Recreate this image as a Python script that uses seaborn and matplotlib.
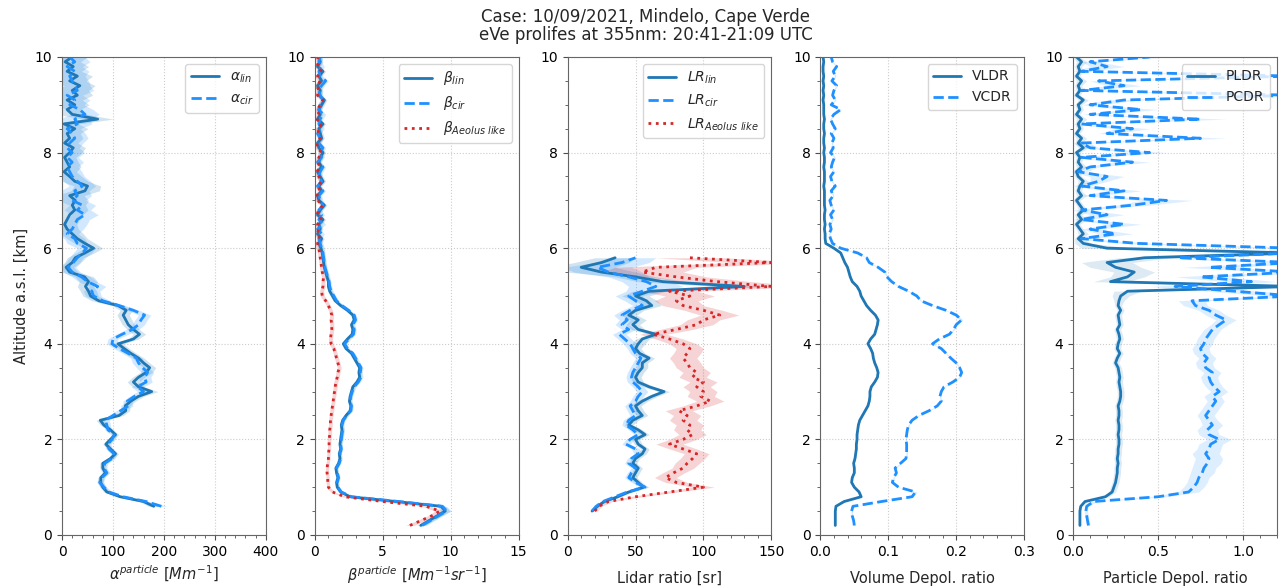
import numpy as np
import matplotlib
matplotlib.use("Agg")
import matplotlib.pyplot as plt
import seaborn as sns

# altitude grids [km]
alt_a = np.round(np.arange(0.6, 10.01, 0.1), 1)
alt = np.round(np.arange(0.2, 10.01, 0.1), 1)
alt_lr = np.round(np.arange(0.5, 5.81, 0.1), 1)

# extinction [Mm-1], grid alt_a
alpha_lin = [180, 160, 114, 88,
             80, 76, 76, 85, 80, 80, 95, 105, 95, 86,
             95, 105, 95, 82, 75, 112, 125, 124, 135, 150,
             176, 150, 140, 150, 165, 172, 160, 150, 135, 122,
             110, 140, 152, 140, 130, 125, 120, 126, 110, 72,
             56, 52, 46, 52, 44, 15, 8, 20, 26, 45,
             62, 45, 30, 20, 10, 5, 10, 15, 25, 20,
             26, 15, 45, 50, 25, 15, 4, 15, 10, 5,
             15, 22, 5, 15, 10, 25, 4, 70, 20, 10,
             25, 10, 30, 20, 35, 15, 30, 10, 22, 6,
             20]
alpha_cir = [195, 165, 120, 92,
             82, 74, 78, 88, 82, 84, 98, 102, 92, 90,
             98, 102, 90, 88, 85, 100, 115, 130, 128, 142,
             160, 148, 165, 162, 168, 158, 150, 146, 130, 112,
             98, 100, 118, 138, 150, 155, 162, 140, 112, 80,
             62, 58, 70, 50, 38, 20, 12, 22, 30, 40,
             48, 30, 25, 10, 20, 25, 30, 45, 30, 40,
             20, 30, 25, 40, 30, 20, 15, 10, 20, 10,
             20, 10, 15, 25, 20, 10, 30, 25, 45, 35,
             15, 25, 10, 30, 25, 20, 15, 25, 10, 25,
             15]
alpha_err = [10, 8, 6, 6,
             6, 6, 6, 6, 6, 6, 6, 6, 6, 6,
             6, 6, 6, 7, 8, 8, 8, 9, 9, 10,
             12, 12, 12, 12, 12, 12, 12, 11, 11, 10,
             10, 10, 12, 12, 12, 12, 12, 12, 12, 14,
             15, 16, 16, 18, 18, 16, 15, 15, 16, 18,
             18, 20, 20, 22, 22, 24, 24, 26, 26, 26,
             26, 28, 28, 26, 26, 24, 24, 22, 22, 22,
             24, 24, 26, 26, 26, 26, 28, 30, 28, 26,
             28, 30, 30, 32, 30, 32, 30, 28, 30, 30,
             30]

# backscatter [Mm-1 sr-1], grid alt
beta_lin = [7.8, 8.4, 9.0, 9.6, 9.3, 6.0, 2.6, 1.9,
            1.65, 1.6, 1.7, 1.6, 1.55, 1.75, 1.85, 1.8, 1.9, 1.85,
            1.9, 1.95, 2.0, 1.95, 2.05, 2.3, 2.6, 2.65, 2.55, 2.6,
            2.7, 2.8, 3.1, 3.3, 3.25, 3.3, 3.1, 2.9, 2.7, 2.3,
            2.1, 2.4, 2.75, 2.8, 2.7, 2.9, 2.8, 2.4, 1.9, 1.5,
            1.3, 1.1, 1.0, 1.0, 0.9, 0.8, 0.7, 0.65, 0.6, 0.55,
            0.45, 0.3, 0.5, 0.2, 0.4, 0.3, 0.6, 0.2, 0.4, 0.7,
            0.3, 0.2, 0.5, 0.3, 0.6, 0.4, 0.2, 0.5, 0.3, 0.4,
            0.6, 0.3, 0.2, 0.5, 0.4, 0.3, 0.6, 0.2, 0.4, 0.3,
            0.5, 0.7, 0.3, 0.4, 0.2, 0.5, 0.3, 0.6, 0.2, 0.4,
            0.3]
beta_cir = [7.9, 8.5, 9.1, 9.7, 9.4, 6.2, 2.7, 1.95,
            1.7, 1.65, 1.75, 1.65, 1.6, 1.8, 1.9, 1.85, 1.95, 1.9,
            1.95, 2.0, 2.05, 2.0, 2.1, 2.35, 2.65, 2.7, 2.6, 2.65,
            2.75, 2.9, 3.2, 3.4, 3.35, 3.4, 3.2, 3.0, 2.8, 2.4,
            2.2, 2.5, 2.85, 2.9, 2.8, 3.0, 2.9, 2.5, 2.0, 1.6,
            1.4, 1.2, 1.1, 1.05, 0.95, 0.85, 0.75, 0.7, 0.65, 0.6,
            0.5, 0.4, 0.3, 0.5, 0.2, 0.6, 0.3, 0.5, 0.3, 0.6,
            0.4, 0.3, 0.6, 0.2, 0.5, 0.3, 0.4, 0.6, 0.2, 0.5,
            0.4, 0.6, 0.3, 0.4, 0.2, 0.5, 0.3, 0.4, 0.6, 0.3,
            0.4, 0.6, 0.4, 0.3, 0.5, 0.8, 0.4, 0.3, 0.5, 0.3,
            0.4]
beta_aeolus = [7.0, 7.8, 8.6, 9.2, 8.2, 5.0, 2.2, 1.3,
               1.0, 0.95, 0.95, 0.9, 0.9, 0.95, 1.0, 1.0, 1.05, 1.05,
               1.05, 1.1, 1.1, 1.15, 1.15, 1.2, 1.25, 1.3, 1.35, 1.4,
               1.45, 1.5, 1.55, 1.65, 1.7, 1.8, 1.7, 1.6, 1.5, 1.4,
               1.2, 1.15, 1.2, 1.25, 1.25, 1.2, 1.25, 1.15, 1.0, 0.8,
               0.55, 0.5, 0.6, 0.6, 0.65, 0.55, 0.5, 0.45, 0.4, 0.35,
               0.3, 0.2, 0.4, 0.15, 0.3, 0.2, 0.5, 0.15, 0.3, 0.6,
               0.2, 0.15, 0.4, 0.2, 0.5, 0.3, 0.15, 0.4, 0.2, 0.3,
               0.5, 0.2, 0.15, 0.4, 0.3, 0.2, 0.5, 0.15, 0.3, 0.2,
               0.4, 0.6, 0.2, 0.3, 0.15, 0.4, 0.2, 0.5, 0.15, 0.3,
               0.2]
beta_err = [0.3, 0.3, 0.3, 0.35, 0.3, 0.3, 0.2, 0.15,
            0.12, 0.12, 0.12, 0.12, 0.12, 0.12, 0.12, 0.12, 0.12, 0.12,
            0.14, 0.14, 0.14, 0.14, 0.14, 0.14, 0.14, 0.14, 0.14, 0.14,
            0.15, 0.15, 0.15, 0.15, 0.15, 0.15, 0.15, 0.15, 0.15, 0.15,
            0.15, 0.15, 0.15, 0.15, 0.15, 0.15, 0.15, 0.15, 0.15, 0.15,
            0.15, 0.15, 0.15, 0.15, 0.15, 0.15, 0.15, 0.15, 0.15, 0.15,
            0.2, 0.2, 0.2, 0.2, 0.2, 0.2, 0.2, 0.2, 0.2, 0.2,
            0.2, 0.2, 0.2, 0.2, 0.2, 0.2, 0.2, 0.2, 0.2, 0.2,
            0.2, 0.2, 0.2, 0.2, 0.2, 0.2, 0.2, 0.2, 0.2, 0.2,
            0.2, 0.2, 0.2, 0.2, 0.2, 0.2, 0.2, 0.2, 0.2, 0.2,
            0.2]

# lidar ratio [sr], grid alt_lr
lr_lin = [18, 22, 27, 37, 45,
          56, 52, 48, 50, 52, 48, 50, 55, 57, 52,
          50, 57, 52, 45, 48, 55, 52, 50, 55, 62,
          71, 60, 52, 50, 52, 55, 55, 60, 53, 50,
          52, 55, 65, 52, 48, 52, 45, 50, 62, 58,
          50, 60, 130, 70, 50, 25, 10, 25, 35]
lr_cir = [18, 21, 26, 35, 44,
          57, 50, 45, 47, 50, 45, 47, 52, 50, 43,
          46, 52, 48, 43, 45, 50, 48, 46, 50, 52,
          55, 52, 48, 47, 48, 50, 52, 54, 50, 48,
          46, 42, 38, 45, 40, 44, 40, 46, 55, 50,
          45, 55, 65, 58, 45, 30, 22, 40, 50]
lr_aeolus = [20, 23, 30, 50, 75,
             100, 80, 72, 78, 85, 88, 92, 95, 85, 75,
             85, 92, 88, 90, 85, 88, 82, 95, 105, 98,
             100, 95, 100, 92, 95, 90, 88, 85, 88, 90,
             85, 75, 63, 80, 95, 100, 112, 100, 85, 80,
             90, 75, 150, 110, 80, 55, 65, 150, 90]
lr_err = [1, 1, 2, 2, 3,
          3, 3, 3, 3, 3, 3, 3, 3, 3, 3,
          3, 3, 3, 3, 4, 4, 4, 4, 4, 4,
          4, 4, 4, 4, 4, 4, 4, 4, 4, 4,
          5, 5, 5, 5, 5, 6, 6, 6, 7, 8,
          10, 12, 20, 18, 15, 25, 25, 20, 15]
lr_aeolus_err = [2, 2, 3, 5, 6,
                 8, 8, 8, 8, 8, 9, 9, 9, 10, 10,
                 10, 10, 10, 10, 10, 10, 10, 10, 10, 10,
                 10, 10, 10, 10, 10, 10, 10, 10, 10, 10,
                 10, 10, 10, 12, 12, 12, 14, 14, 15, 16,
                 18, 20, 30, 25, 22, 30, 30, 30, 25]

# volume depolarization ratio, grid alt
vldr = [0.022, 0.022, 0.022, 0.022, 0.023, 0.035, 0.06, 0.057,
        0.05, 0.046, 0.047, 0.05, 0.05, 0.049, 0.051, 0.052, 0.053, 0.053,
        0.054, 0.054, 0.055, 0.056, 0.058, 0.062, 0.066, 0.07, 0.072, 0.073,
        0.073, 0.075, 0.08, 0.084, 0.085, 0.083, 0.08, 0.078, 0.077, 0.074,
        0.07, 0.074, 0.08, 0.082, 0.084, 0.085, 0.081, 0.074, 0.068, 0.064,
        0.06, 0.058, 0.054, 0.047, 0.044, 0.042, 0.04, 0.036, 0.033, 0.03,
        0.02, 0.008, 0.007, 0.007, 0.006, 0.007, 0.006, 0.006, 0.007, 0.006,
        0.006, 0.006, 0.006, 0.005, 0.006, 0.006, 0.006, 0.005, 0.006, 0.006,
        0.005, 0.006, 0.005, 0.005, 0.006, 0.005, 0.005, 0.006, 0.005, 0.005,
        0.005, 0.004, 0.005, 0.004, 0.005, 0.004, 0.005, 0.004, 0.004, 0.005,
        0.004]
vcdr = [0.05, 0.049, 0.047, 0.046, 0.048, 0.09, 0.135, 0.14,
        0.115, 0.106, 0.108, 0.112, 0.11, 0.118, 0.126, 0.127, 0.127, 0.127,
        0.126, 0.127, 0.128, 0.13, 0.135, 0.145, 0.16, 0.172, 0.178, 0.176,
        0.178, 0.182, 0.195, 0.205, 0.208, 0.205, 0.2, 0.192, 0.185, 0.178,
        0.165, 0.175, 0.19, 0.196, 0.2, 0.208, 0.2, 0.185, 0.165, 0.148,
        0.142, 0.13, 0.115, 0.105, 0.098, 0.095, 0.085, 0.072, 0.068, 0.055,
        0.03, 0.018, 0.015, 0.013, 0.016, 0.014, 0.018, 0.015, 0.02, 0.016,
        0.014, 0.019, 0.016, 0.022, 0.017, 0.015, 0.02, 0.016, 0.018, 0.021,
        0.015, 0.019, 0.017, 0.02, 0.016, 0.022, 0.018, 0.015, 0.02, 0.03,
        0.016, 0.022, 0.018, 0.02, 0.024, 0.017, 0.022, 0.019, 0.024, 0.018,
        0.016]
vdr_err = [0.001, 0.001, 0.001, 0.001, 0.001, 0.001, 0.002, 0.002,
           0.001, 0.001, 0.001, 0.001, 0.001, 0.001, 0.001, 0.001, 0.001, 0.001,
           0.001, 0.001, 0.001, 0.001, 0.001, 0.001, 0.001, 0.001, 0.001, 0.001,
           0.001, 0.001, 0.001, 0.001, 0.001, 0.001, 0.001, 0.001, 0.001, 0.001,
           0.001, 0.001, 0.001, 0.001, 0.001, 0.002, 0.001, 0.001, 0.001, 0.001,
           0.001, 0.001, 0.001, 0.001, 0.001, 0.001, 0.001, 0.001, 0.001, 0.001,
           0.001, 0.001, 0.001, 0.001, 0.001, 0.001, 0.001, 0.001, 0.001, 0.001,
           0.001, 0.001, 0.001, 0.001, 0.001, 0.001, 0.001, 0.001, 0.001, 0.001,
           0.001, 0.001, 0.001, 0.001, 0.001, 0.001, 0.001, 0.001, 0.001, 0.001,
           0.001, 0.001, 0.001, 0.001, 0.001, 0.001, 0.001, 0.001, 0.001, 0.001,
           0.001]

# particle depolarization ratio, grid alt
pldr = [0.04, 0.04, 0.04, 0.04, 0.045, 0.07, 0.19, 0.23,
        0.24, 0.25, 0.255, 0.26, 0.26, 0.265, 0.26, 0.265, 0.265, 0.27,
        0.27, 0.265, 0.27, 0.27, 0.265, 0.27, 0.27, 0.265, 0.275, 0.28,
        0.28, 0.275, 0.27, 0.275, 0.27, 0.265, 0.25, 0.26, 0.275, 0.26,
        0.265, 0.275, 0.27, 0.26, 0.275, 0.27, 0.265, 0.28, 0.265, 0.27,
        0.28, 0.32, 1.3, 0.22, 0.32, 0.36, 0.25, 0.2, 0.42, 1.3,
        0.2, 0.06, 0.03, 0.06, 0.04, 0.02, 0.05, 0.03, 0.06, 0.04,
        0.02, 0.05, 0.03, 0.04, 0.06, 0.03, 0.02, 0.05, 0.03, 0.04,
        0.02, 0.06, 0.03, 0.05, 0.02, 0.04, 0.03, 0.05, 0.02, 0.04,
        0.03, 0.06, 0.02, 0.04, 0.03, 0.05, 0.02, 0.04, 0.03, 0.05,
        0.02]
pcdr = [0.09, 0.085, 0.08, 0.075, 0.08, 0.12, 0.5, 0.68,
        0.71, 0.73, 0.74, 0.76, 0.77, 0.79, 0.8, 0.78, 0.8, 0.81,
        0.86, 0.8, 0.79, 0.82, 0.8, 0.78, 0.8, 0.82, 0.84, 0.82,
        0.86, 0.83, 0.81, 0.8, 0.82, 0.78, 0.77, 0.79, 0.76, 0.75,
        0.77, 0.78, 0.8, 0.82, 0.86, 0.9, 0.84, 0.8, 0.72, 0.7,
        1.3, 0.95, 0.6, 1.05, 0.75, 1.3, 0.8, 1.3, 0.62, 1.3,
        1.3, 0.38, 0.05, 0.25, 0.1, 0.3, 0.05, 0.2, 0.05, 0.35,
        0.55, 0.1, 0.3, 0.05, 0.15, 0.2, 0.03, 0.1, 0.35, 0.05,
        0.45, 0.1, 0.05, 0.75, 0.2, 0.35, 0.05, 0.75, 0.1, 0.4,
        0.1, 0.3, 1.3, 0.05, 0.3, 0.15, 1.3, 0.05, 0.2, 0.1,
        0.45]
pldr_err = [0.005, 0.005, 0.005, 0.005, 0.005, 0.01, 0.02, 0.02,
            0.02, 0.02, 0.02, 0.02, 0.02, 0.02, 0.02, 0.02, 0.02, 0.02,
            0.02, 0.02, 0.02, 0.02, 0.02, 0.02, 0.02, 0.02, 0.02, 0.02,
            0.02, 0.02, 0.02, 0.02, 0.02, 0.02, 0.02, 0.02, 0.02, 0.02,
            0.02, 0.02, 0.02, 0.02, 0.02, 0.02, 0.02, 0.02, 0.02, 0.03,
            0.05, 0.08, 0.2, 0.1, 0.1, 0.12, 0.15, 0.15, 0.15, 0.2,
            0.15, 0.05, 0.02, 0.03, 0.02, 0.02, 0.03, 0.02, 0.03, 0.02,
            0.02, 0.03, 0.02, 0.02, 0.03, 0.02, 0.02, 0.03, 0.02, 0.02,
            0.02, 0.03, 0.02, 0.03, 0.02, 0.02, 0.02, 0.03, 0.02, 0.02,
            0.02, 0.03, 0.02, 0.02, 0.02, 0.03, 0.02, 0.02, 0.02, 0.03,
            0.02]
pcdr_err = [0.01, 0.01, 0.01, 0.01, 0.01, 0.02, 0.05, 0.06,
            0.06, 0.06, 0.06, 0.07, 0.07, 0.08, 0.08, 0.08, 0.07, 0.07,
            0.07, 0.06, 0.06, 0.06, 0.05, 0.05, 0.05, 0.05, 0.05, 0.05,
            0.05, 0.05, 0.05, 0.05, 0.05, 0.05, 0.05, 0.05, 0.05, 0.05,
            0.05, 0.05, 0.05, 0.05, 0.05, 0.06, 0.06, 0.06, 0.07, 0.08,
            0.15, 0.15, 0.15, 0.15, 0.15, 0.15, 0.15, 0.15, 0.15, 0.15,
            0.15, 0.1, 0.05, 0.1, 0.05, 0.1, 0.05, 0.1, 0.05, 0.1,
            0.15, 0.05, 0.1, 0.05, 0.05, 0.1, 0.05, 0.05, 0.1, 0.05,
            0.1, 0.05, 0.05, 0.15, 0.05, 0.1, 0.05, 0.15, 0.05, 0.1,
            0.05, 0.1, 0.2, 0.05, 0.1, 0.05, 0.2, 0.05, 0.1, 0.05,
            0.1]

dark = "#1f77b4"
light = "#1e90ff"
red = "#d62728"

sns.set_style("ticks", {"axes.grid": True, "grid.linestyle": ":", "grid.color": "0.8",
                        "axes.edgecolor": "0.4", "xtick.color": "0.3", "ytick.color": "0.3"})
plt.rcParams["font.family"] = ["DejaVu Sans"]
plt.rcParams["xtick.labelcolor"] = "black"
plt.rcParams["ytick.labelcolor"] = "black"


def profile(ax, x, y, err, color, ls, label, lw=2.0, alpha=0.2):
    x = np.asarray(x, dtype=float)
    err = np.asarray(err, dtype=float)
    ax.fill_betweenx(y, x - err, x + err, color=color, alpha=alpha, lw=0)
    sns.lineplot(x=x, y=y, orient="y", sort=False, estimator=None, errorbar=None,
                 ax=ax, color=color, linestyle=ls, lw=lw, label=label)


fig, axes = plt.subplots(1, 5, figsize=(12.79, 5.87), dpi=100)
fig.subplots_adjust(left=0.0485, right=0.9984, bottom=0.0886, top=0.9029, wspace=0.24)

ax = axes[0]
profile(ax, alpha_lin, alt_a, alpha_err, dark, "-", r"$\alpha_{lin}$")
profile(ax, alpha_cir, alt_a, alpha_err, light, "--", r"$\alpha_{cir}$")
ax.set_xlim(0, 400)
ax.set_xlabel(r"$\alpha^{particle}\ [Mm^{-1}]$", labelpad=4)
ax.set_ylabel("Altitude a.s.l. [km]")

ax = axes[1]
profile(ax, beta_lin, alt, beta_err, dark, "-", r"$\beta_{lin}$")
profile(ax, beta_cir, alt, beta_err, light, "--", r"$\beta_{cir}$")
profile(ax, beta_aeolus, alt, beta_err, red, ":", r"$\beta_{Aeolus\ like}$")
ax.set_xlim(0, 15)
ax.set_xlabel(r"$\beta^{particle}\ [Mm^{-1}sr^{-1}]$", labelpad=4)

ax = axes[2]
profile(ax, lr_lin, alt_lr, lr_err, dark, "-", r"$LR_{lin}$")
profile(ax, lr_cir, alt_lr, lr_err, light, "--", r"$LR_{cir}$")
profile(ax, lr_aeolus, alt_lr, lr_aeolus_err, red, ":", r"$LR_{Aeolus\ like}$")
ax.set_xlim(0, 150)
ax.set_xlabel("Lidar ratio [sr]", labelpad=9)

ax = axes[3]
profile(ax, vldr, alt, vdr_err, dark, "-", "VLDR")
profile(ax, vcdr, alt, vdr_err, light, "--", "VCDR")
ax.set_xlim(0, 0.3)
ax.set_xticks([0.0, 0.1, 0.2, 0.3])
ax.set_xlabel("Volume Depol. ratio", labelpad=9)

ax = axes[4]
profile(ax, pldr, alt, pldr_err, dark, "-", "PLDR", alpha=0.15)
profile(ax, pcdr, alt, pcdr_err, light, "--", "PCDR", alpha=0.15)
ax.set_xlim(0, 1.2)
ax.set_xticks([0.0, 0.5, 1.0])
ax.set_xlabel("Particle Depol. ratio", labelpad=9)

for i, ax in enumerate(axes):
    ax.set_ylim(0, 10)
    ax.set_yticks([0, 2, 4, 6, 8, 10])
    ax.minorticks_on()
    ax.grid(True, which="major", linestyle=":", color="0.8")
    ax.grid(False, which="minor")
    ax.tick_params(labelsize=10)
    ax.xaxis.label.set_size(10.5)
    ax.yaxis.label.set_size(10.5)
    if i > 0:
        ax.set_ylabel("")
    ax.legend(loc="upper right", fontsize=10)

fig.suptitle("Case: 10/09/2021, Mindelo, Cape Verde\neVe prolifes at 355nm: 20:41-21:09 UTC",
             x=0.505, y=0.987, fontsize=12, linespacing=1.0)

fig.savefig("out.png", dpi=100)
